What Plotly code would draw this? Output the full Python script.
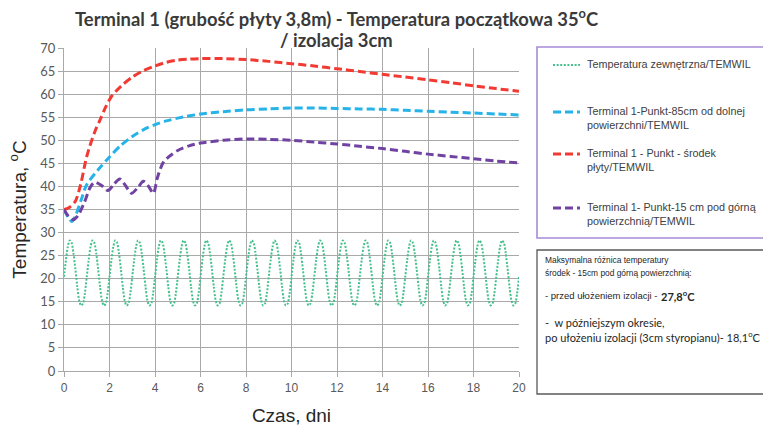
import plotly.graph_objects as go

# ---- data -------------------------------------------------------------
# Outdoor temperature, sampled every 2 hours (12 samples per day)
outdoor_days = [i / 12 for i in range(241)]
outdoor_temp = [
    20.4, 24.0, 26.9, 28.3, 27.8, 25.5, 22.1, 18.3, 15.3, 14.2, 14.6, 16.8,  # day 1
    20.4, 24.0, 26.9, 28.3, 27.8, 25.5, 22.1, 18.3, 15.3, 14.2, 14.6, 16.8,  # day 2
    20.4, 24.0, 26.9, 28.3, 27.8, 25.5, 22.1, 18.3, 15.3, 14.2, 14.6, 16.8,  # day 3
    20.4, 24.0, 26.9, 28.3, 27.8, 25.5, 22.1, 18.3, 15.3, 14.2, 14.6, 16.8,  # day 4
    20.4, 24.0, 26.9, 28.3, 27.8, 25.5, 22.1, 18.3, 15.3, 14.2, 14.6, 16.8,  # day 5
    20.4, 24.0, 26.9, 28.3, 27.8, 25.5, 22.1, 18.3, 15.3, 14.2, 14.6, 16.8,  # day 6
    20.4, 24.0, 26.9, 28.3, 27.8, 25.5, 22.1, 18.3, 15.3, 14.2, 14.6, 16.8,  # day 7
    20.4, 24.0, 26.9, 28.3, 27.8, 25.5, 22.1, 18.3, 15.3, 14.2, 14.6, 16.8,  # day 8
    20.4, 24.0, 26.9, 28.3, 27.8, 25.5, 22.1, 18.3, 15.3, 14.2, 14.6, 16.8,  # day 9
    20.4, 24.0, 26.9, 28.3, 27.8, 25.5, 22.1, 18.3, 15.3, 14.2, 14.6, 16.8,  # day 10
    20.4, 24.0, 26.9, 28.3, 27.8, 25.5, 22.1, 18.3, 15.3, 14.2, 14.6, 16.8,  # day 11
    20.4, 24.0, 26.9, 28.3, 27.8, 25.5, 22.1, 18.3, 15.3, 14.2, 14.6, 16.8,  # day 12
    20.4, 24.0, 26.9, 28.3, 27.8, 25.5, 22.1, 18.3, 15.3, 14.2, 14.6, 16.8,  # day 13
    20.4, 24.0, 26.9, 28.3, 27.8, 25.5, 22.1, 18.3, 15.3, 14.2, 14.6, 16.8,  # day 14
    20.4, 24.0, 26.9, 28.3, 27.8, 25.5, 22.1, 18.3, 15.3, 14.2, 14.6, 16.8,  # day 15
    20.4, 24.0, 26.9, 28.3, 27.8, 25.5, 22.1, 18.3, 15.3, 14.2, 14.6, 16.8,  # day 16
    20.4, 24.0, 26.9, 28.3, 27.8, 25.5, 22.1, 18.3, 15.3, 14.2, 14.6, 16.8,  # day 17
    20.4, 24.0, 26.9, 28.3, 27.8, 25.5, 22.1, 18.3, 15.3, 14.2, 14.6, 16.8,  # day 18
    20.4, 24.0, 26.9, 28.3, 27.8, 25.5, 22.1, 18.3, 15.3, 14.2, 14.6, 16.8,  # day 19
    20.4, 24.0, 26.9, 28.3, 27.8, 25.5, 22.1, 18.3, 15.3, 14.2, 14.6, 16.8,  # day 20
    20.4,
]

# Point 85 cm above the bottom surface
bottom_days = [0, 0.2, 0.35, 0.5, 0.75, 1.0, 1.5, 2.0, 2.5, 3.0, 3.5, 4.0,
               4.5, 5, 6, 7, 8, 9, 10, 11, 12, 13, 14, 15, 16, 17, 18, 19, 20]
bottom_temp = [35, 33.2, 32.4, 33.6, 37.0, 40.4, 43.6, 46.4, 48.9, 50.8,
               52.3, 53.4, 54.2, 54.8, 55.7, 56.2, 56.6, 56.8, 57.0, 57.0,
               56.9, 56.8, 56.7, 56.5, 56.3, 56.1, 55.9, 55.7, 55.5]

# Middle of the slab
middle_days = [0, 0.25, 0.5, 0.75, 0.95, 1.1, 1.35, 1.6, 1.85, 2.1, 2.5,
               3.0, 3.5, 4.0, 4.5, 5.0, 5.5, 6.0, 7, 8, 9, 10, 11, 12, 13,
               14, 15, 16, 17, 18, 19, 20]
middle_temp = [35, 35.5, 36.8, 40.8, 45.5, 48.2, 51.8, 54.6, 57.4, 59.6,
               61.7, 63.7, 65.1, 66.1, 66.9, 67.4, 67.6, 67.7, 67.7, 67.5,
               67.1, 66.6, 66.1, 65.5, 64.9, 64.3, 63.7, 63.1, 62.5, 61.8,
               61.2, 60.6]

# Point 15 cm below the top surface
top_days = [0, 0.2, 0.4, 0.6, 0.9, 1.15, 1.35, 1.65, 1.93, 2.2, 2.45, 2.7,
            2.97, 3.25, 3.49, 3.72, 3.93, 4.1, 4.35, 4.6, 5.0, 5.5, 6, 7, 8,
            9, 10, 11, 12, 13, 14, 15, 16, 17, 18, 19, 20]
top_temp = [35, 33.5, 32.8, 33.6, 36.6, 39.8, 40.9, 40.2, 39.1, 40.5, 41.6,
            40.2, 38.5, 39.8, 41.1, 40.0, 38.5, 41.8, 45.1, 46.4, 47.8, 48.8,
            49.4, 50.0, 50.3, 50.2, 50.0, 49.6, 49.2, 48.7, 48.2, 47.6, 47.0,
            46.5, 46.0, 45.5, 45.1]

x_ticks = list(range(0, 21, 2))
y_ticks = list(range(0, 71, 5))

series_names = [
    "Temperatura zewnętrzna/TEMWIL",
    "Terminal 1-Punkt-85cm od dolnej<br>powierzchni/TEMWIL",
    "Terminal 1 - Punkt - środek<br>płyty/TEMWIL",
    "Terminal 1- Punkt-15 cm pod górną<br>powierzchnią/TEMWIL",
]
series_colors = ["#45c08e", "#25b3e8", "#f23a32", "#7043a3"]
series_dash = ["2px,1.6px", "8px,4px", "8px,4px", "8px,4px"]
series_width = [2, 3, 3, 3]

# ---- figure -----------------------------------------------------------
W, H = 763, 428
L, R, T, B = 64, 519, 48, 371  # plot area in pixels


def px_x(px):
    return (px - L) / (R - L)


def px_y(py):
    return (B - py) / (B - T)


fig = go.Figure()
for name, xs, ys, c, d, w in zip(
        series_names,
        [outdoor_days, bottom_days, middle_days, top_days],
        [outdoor_temp, bottom_temp, middle_temp, top_temp],
        series_colors, series_dash, series_width):
    fig.add_trace(go.Scatter(
        x=xs, y=ys, mode="lines", name=name.replace("<br>", " "),
        line=dict(color=c, dash=d, width=w, shape="spline", smoothing=0.8),
        hoverinfo="x+y+name"))

grid = "#a9a9a9"
fig.update_layout(
    width=W, height=H,
    margin=dict(l=L, r=W - R, t=T, b=H - B),
    plot_bgcolor="white", paper_bgcolor="white",
    showlegend=False,
    font=dict(family="Liberation Sans, Arial, sans-serif", color="#404040"),
    xaxis=dict(
        range=[0, 20], tickvals=x_ticks, showgrid=True, gridcolor=grid,
        gridwidth=1.3, ticks="outside", ticklen=5, tickcolor=grid,
        showline=True, linecolor=grid, linewidth=1.3, zeroline=False,
        automargin=False,
        tickfont=dict(family="Liberation Sans, Arial", size=12,
                      color="#595959"),
        title=dict(text="Czas, dni", standoff=15,
                   font=dict(family="Liberation Sans, Arial", size=19,
                             color="#262626"))),
    yaxis=dict(
        range=[0, 70], tickvals=y_ticks, showgrid=True, gridcolor=grid,
        gridwidth=1.3, ticks="outside", ticklen=5, tickcolor=grid,
        showline=True, linecolor=grid, linewidth=1.3, zeroline=False,
        automargin=False,
        tickfont=dict(family="Lato, sans-serif", size=13, color="#595959"),
        title=dict(text="Temperatura, <sup>o</sup>C", standoff=8,
                   font=dict(family="Liberation Sans, Arial", size=19,
                             color="#262626"))),
)

annotations = []

# ---- chart title (two centred lines) ------------------------------------
title_font = dict(family="Lato, sans-serif", size=18.4, color="#3a3a3a",
                  weight="bold")
for text, py in [
        ("Terminal 1 (grubość płyty 3,8m) - Temperatura początkowa 35<sup>o</sup>C", 17),
        ("/ izolacja 3cm", 40)]:
    annotations.append(dict(
        text=text, xref="paper", yref="paper", x=px_x(336), y=px_y(py),
        xanchor="center", yanchor="middle", showarrow=False,
        font=title_font))

# ---- legend panel -----------------------------------------------------
shapes = [dict(type="rect", xref="paper", yref="paper",
               x0=px_x(537), x1=px_x(770), y0=px_y(238), y1=px_y(47),
               line=dict(color="#a88ad8", width=1.6), fillcolor="rgba(0,0,0,0)")]
legend_rows = [65, 112, 154, 208]
for name, c, d, w, row in zip(series_names, series_colors, series_dash,
                              series_width, legend_rows):
    shapes.append(dict(type="line", xref="paper", yref="paper",
                       x0=px_x(553), x1=px_x(580), y0=px_y(row), y1=px_y(row),
                       line=dict(color=c, dash=d, width=w)))
    annotations.append(dict(
        text=name, xref="paper", yref="paper", x=px_x(585), y=px_y(row - 9),
        xanchor="left", yanchor="top", align="left", showarrow=False,
        font=dict(family="Liberation Sans, Arial", size=10.8,
                  color="#404040")))

# ---- note panel -------------------------------------------------------
shapes.append(dict(type="rect", xref="paper", yref="paper",
                   x0=px_x(537), x1=px_x(770), y0=px_y(394), y1=px_y(250),
                   line=dict(color="#595959", width=1.3),
                   fillcolor="rgba(0,0,0,0)"))
narrow = "Liberation Sans Narrow, Liberation Sans"
note_lines = [
    ("Maksymalna różnica temperatury", 543, 260, 8.4, narrow, "normal"),
    ("środek - 15cm pod górną powierzchnią:", 543, 273, 8.4, narrow, "normal"),
    ("- przed ułożeniem izolacji -", 543, 295, 9.5, narrow, "normal"),
    ("27,8<sup>o</sup>C", 659, 295, 11, "Lato, sans-serif", "bold"),
    ("-  w późniejszym okresie,", 543, 322, 11, "Lato, sans-serif", "normal"),
    ("po ułożeniu izolacji (3cm styropianu)- 18,1<sup>o</sup>C", 543, 336, 11,
     "Lato, sans-serif", "normal"),
]
for text, px, py, size, fam, wt in note_lines:
    annotations.append(dict(
        text=text, xref="paper", yref="paper", x=px_x(px), y=px_y(py),
        xanchor="left", yanchor="middle", align="left", showarrow=False,
        font=dict(family=fam, size=size, color="#262626", weight=wt)))

fig.update_layout(shapes=shapes, annotations=annotations)
fig.write_html("out.html")
